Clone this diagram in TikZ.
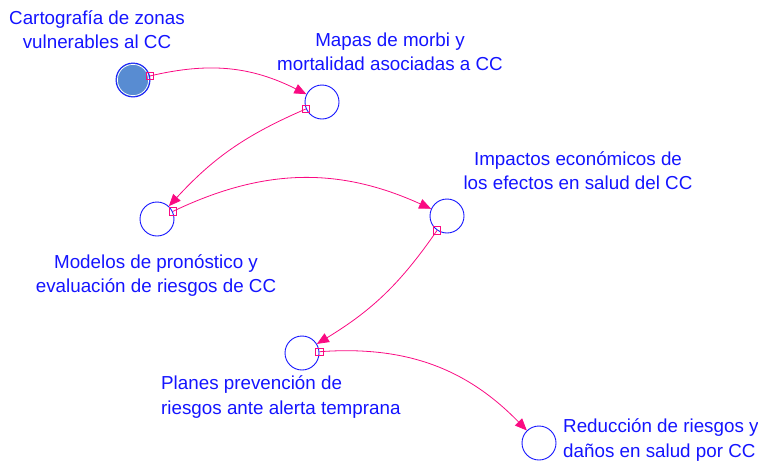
\documentclass[tikz,border=0pt]{standalone}
\usepackage{fontspec}
\setmainfont{Liberation Sans}
\usepackage{xcolor}
\usetikzlibrary{arrows.meta}
\definecolor{varblue}{RGB}{20,20,255}
\definecolor{linkpink}{RGB}{250,10,130}
\definecolor{varfill}{RGB}{88,140,210}

\begin{document}
\begin{tikzpicture}[
  x=1pt, y=-1pt,
  every node/.style={font=\fontsize{18.8}{24.5}\selectfont,text=varblue},
  var/.style={circle,draw=varblue,line width=0.9pt,minimum size=34pt,inner sep=0pt},
  lbl/.style={align=center,anchor=base,inner sep=0pt},
  lbll/.style={align=left,anchor=base west,inner sep=0pt},
  link/.style={draw=linkpink,line width=0.8pt,-{Triangle[length=12pt,width=10pt]}},
  tail/.style={rectangle,draw=linkpink,minimum size=7.5pt,inner sep=0pt,line width=0.7pt}
]
\useasboundingbox (0,0) rectangle (758,461);

% variables
\node[var,fill=varfill] (carto) at (133,80) {};
\draw[white,line width=0.7pt] (carto.center) circle[radius=15.6pt];
\node[var] (mapas) at (322,102) {};
\node[var] (modelos) at (157,219) {};
\node[var] (impactos) at (447,216) {};
\node[var] (planes) at (302,353) {};
\node[var] (reduccion) at (539,443) {};

% labels (y = baseline of the last line)
\node[lbl] (carto-l) at (97,48.5) {Cartografía de zonas\\vulnerables al CC};
\node[lbl] (mapas-l) at (390,70.5) {Mapas de morbi y\\mortalidad asociadas a CC};
\node[lbl] (impactos-l) at (578,189.5) {Impactos económicos de\\los efectos en salud del CC};
\node[lbl] (modelos-l) at (156,292.5) {Modelos de pronóstico y\\evaluación de riesgos de CC};
\node[lbll] (planes-l) at (161,414) {Planes prevención de\\riesgos ante alerta temprana};
\node[lbll] (reduccion-l) at (563,457) {Reducción de riesgos y\\daños en salud por CC};

% links
\draw[link] (carto) to[bend left=20] node[tail,pos=0]{} (mapas);
\draw[link] (mapas) to[bend right=12] node[tail,pos=0]{} (modelos);
\draw[link] (modelos) to[bend left=25] node[tail,pos=0]{} (impactos);
\draw[link] (impactos) to[bend left=12] node[tail,pos=0]{} (planes);
\draw[link] (planes) to[bend left=25] node[tail,pos=0]{} (reduccion);
\end{tikzpicture}
\end{document}
